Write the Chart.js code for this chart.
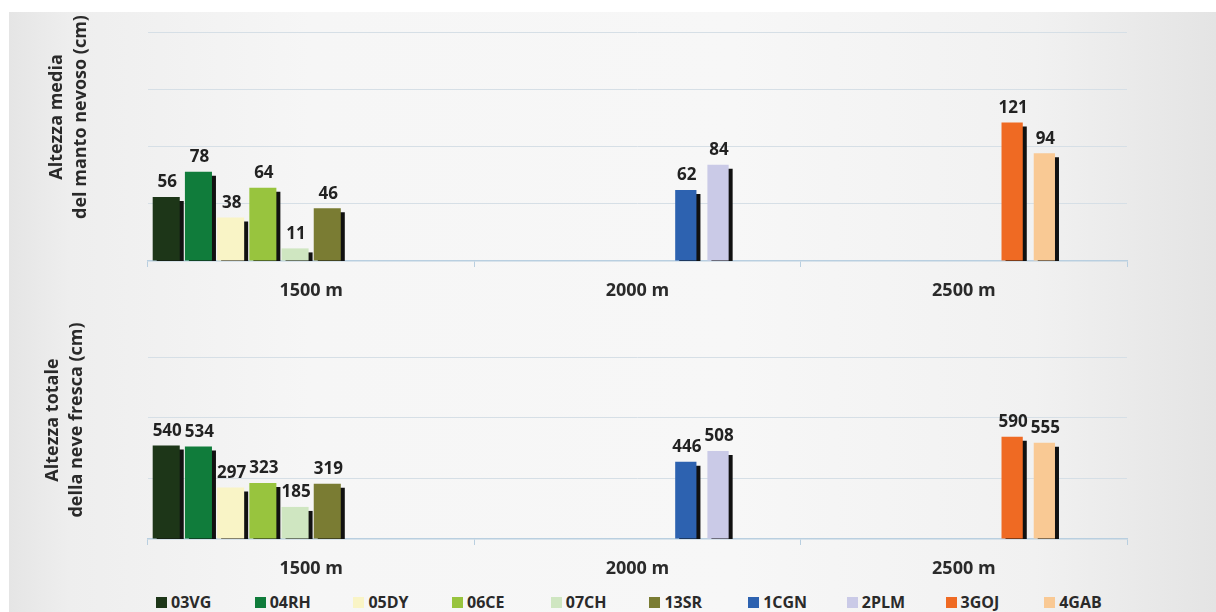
<!DOCTYPE html>
<html>
<head>
<meta charset="utf-8">
<script src="https://cdn.jsdelivr.net/npm/chart.js@4.4.1/dist/chart.umd.min.js"></script>
<style>
  html, body { margin: 0; padding: 0; background: #fff; }
  #wrap { position: relative; width: 1216px; height: 612px; overflow: hidden; background: #fff; }
  #bg { position: absolute; left: 9px; top: 12px; right: 0; bottom: 0;
        background: linear-gradient(to right, #e5e5e5 0%, #eeeeee 5%, #f6f6f6 25%, #f7f7f7 60%, #f1f1f1 85%, #e4e4e4 100%); }
  .pane { position: absolute; left: 0; width: 1216px; }
  #paneTop { top: 0; height: 305px; }
  #paneBot { top: 305px; height: 280px; }
  .ytitle { position: absolute; font: 700 18px "Open Sans", sans-serif; color: #2a2a2a; line-height: 24px;
            text-align: center; white-space: nowrap; transform: translate(-50%, -50%) rotate(-90deg); }
  #legend { position: absolute; top: 591px; left: 156px; display: flex; font: 700 16px "Open Sans", sans-serif; color: #2a2a2a; }
  #legend .item { width: 98.7px; display: flex; align-items: center; }
  #legend .sw { width: 11px; height: 11px; margin-right: 4px; }
</style>
</head>
<body>
<div id="wrap">
  <div id="bg"></div>
  <div class="pane" id="paneTop"><canvas id="chartTop"></canvas></div>
  <div class="pane" id="paneBot"><canvas id="chartBot"></canvas></div>
  <div class="ytitle" style="left:67px; top:117px;">Altezza media<br>del manto nevoso (cm)</div>
  <div class="ytitle" style="left:63px; top:420px;">Altezza totale<br>della neve fresca (cm)</div>
  <div id="legend"></div>
</div>
<script>
const categories = ['1500 m', '2000 m', '2500 m'];
const stations = ['03VG', '04RH', '05DY', '06CE', '07CH', '13SR', '1CGN', '2PLM', '3GOJ', '4GAB'];
// which altitude band each station belongs to (index into categories)
const stationBand = [0, 0, 0, 0, 0, 0, 1, 1, 2, 2];
const mediaManto = [56, 78, 38, 64, 11, 46, 62, 84, 121, 94];
const neveFresca = [540, 534, 297, 323, 185, 319, 446, 508, 590, 555];
const colors = ['#1d3618', '#107c3b', '#f9f4c6', '#98c43e', '#cfe6c1', '#7a7c33', '#2d62b0', '#cacae7', '#ef6a23', '#f9c994'];

Chart.defaults.font.family = '"Open Sans", sans-serif';
Chart.defaults.color = '#2a2a2a';

// slot in the group: 2000 m and 2500 m stations share the same slots
const slots = [0, 1, 2, 3, 4, 5, 6, 7, 6, 7];

function buildDatasets(values) {
    const sets = stations.map((name, i) => ({
        label: name,
        data: categories.map((c, j) => j === stationBand[i] ? values[i] : null),
        backgroundColor: colors[i],
        stack: 's' + slots[i],
        barPercentage: stationBand[i] === 0 ? 0.84 : 0.66,
        categoryPercentage: 0.987,
        clip: 0
    }));
    // two empty groups keep the 10-slot width of the original layout
    sets.push({ label: '', data: [], stack: 's8', categoryPercentage: 0.987 });
    sets.push({ label: '', data: [], stack: 's9', categoryPercentage: 0.987 });
    return sets;
}

const barShadow = {
    id: 'barShadow',
    beforeDatasetsDraw(chart) {
        const ctx = chart.ctx;
        ctx.save();
        ctx.shadowColor = '#111';
        ctx.shadowOffsetX = 4;
        ctx.shadowOffsetY = 4;
        ctx.shadowBlur = 0;
    },
    afterDatasetsDraw(chart) {
        const ctx = chart.ctx;
        ctx.restore();
        ctx.save();
        ctx.font = '700 17px "Open Sans", sans-serif';
        ctx.fillStyle = '#222';
        ctx.textAlign = 'center';
        ctx.textBaseline = 'bottom';
        chart.data.datasets.forEach((ds, i) => {
            chart.getDatasetMeta(i).data.forEach((bar, j) => {
                const v = ds.data[j];
                if (v == null) return;
                ctx.fillText(v, bar.x + 1, bar.y - 6);
            });
        });
        ctx.restore();
    }
};

function makeChart(id, values, max, step, pad) {
    return new Chart(document.getElementById(id), {
        type: 'bar',
        data: { labels: categories, datasets: buildDatasets(values) },
        options: {
            responsive: true,
            maintainAspectRatio: false,
            animation: false,
            layout: { padding: pad },
            plugins: { legend: { display: false }, tooltip: { enabled: false } },
            scales: {
                x: {
                    grid: { drawOnChartArea: false, drawTicks: true, tickLength: 6, color: '#b9cfe0' },
                    border: { color: '#b9cfe0', width: 1.5 },
                    ticks: { font: { size: 18, weight: '700' }, color: '#2a2a2a', padding: 13 },
                    afterFit(scale) { scale.height = 40; }
                },
                y: {
                    stacked: false,
                    min: 0,
                    max: max,
                    ticks: { display: false, stepSize: step },
                    grid: { drawTicks: false, color: ctx => ctx.tick.value === 0 ? 'rgba(0,0,0,0)' : '#d6dfe6' },
                    border: { display: false },
                    afterFit(scale) { scale.width = 0; }
                }
            }
        },
        plugins: [barShadow]
    });
}

makeChart('chartTop', mediaManto, 200, 50, { left: 148, right: 89, top: 32, bottom: 4 });
makeChart('chartBot', neveFresca, 1050, 350, { left: 148, right: 89, top: 52, bottom: 6 });

const legend = document.getElementById('legend');
stations.forEach((name, i) => {
    const item = document.createElement('div');
    item.className = 'item';
    item.innerHTML = '<span class="sw" style="background:' + colors[i] + '"></span>' + name;
    legend.appendChild(item);
});
</script>
</body>
</html>
